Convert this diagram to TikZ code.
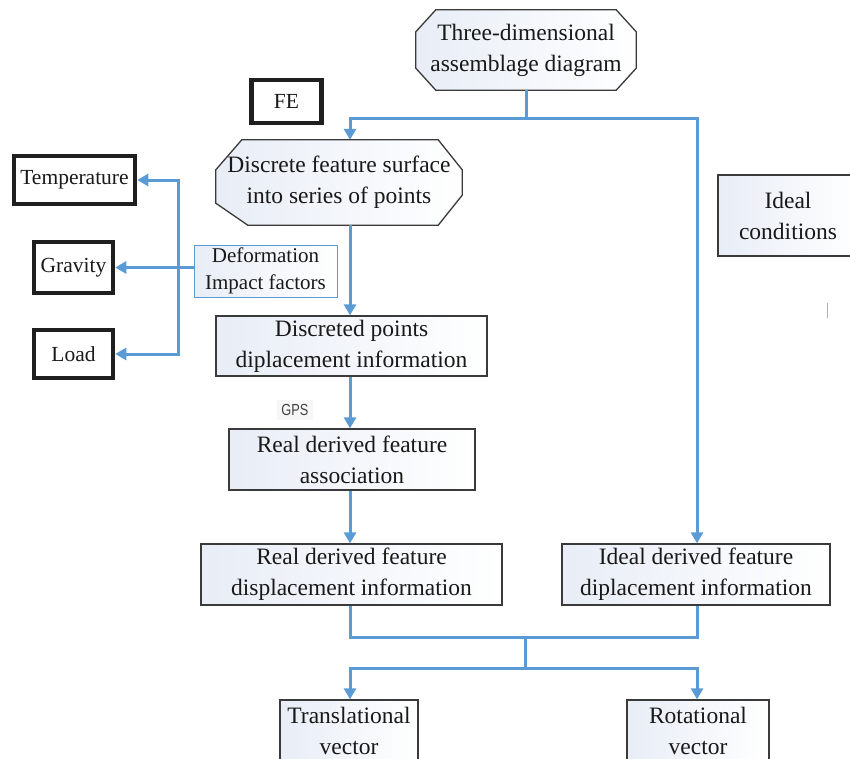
\documentclass[tikz,border=0pt]{standalone}
\usepackage{fontspec}
\setmainfont{Liberation Serif}
\newfontfamily\gpsfont[FakeStretch=0.8]{Liberation Sans}
\usetikzlibrary{arrows.meta,backgrounds}
\definecolor{connblue}{HTML}{5B9BD5}
\definecolor{bord}{HTML}{3A3A3A}
\definecolor{shadeL}{RGB}{232,237,246}
\begin{document}
\begin{tikzpicture}[x=1pt,y=-1pt,
 base/.style={align=center, inner sep=0pt, font=\fontsize{23.5}{31}\selectfont, text=black!90},
 plainbox/.style={base, draw=bord, line width=1.3pt, left color=shadeL, right color=white},
 thickbox/.style={base, draw=black!88, line width=4.5pt, fill=white, font=\fontsize{21.5}{24}\selectfont},
 octline/.style={draw=bord, line width=1.3pt, left color=shadeL, right color=white},
 connline/.style={draw=connblue, line width=3pt},
 arr/.style={connline, -{Triangle[length=11pt,width=12pt]}},
]
\useasboundingbox (0,0) rectangle (850,758);

% octagon nodes
\node[base, minimum width=220pt, minimum height=80pt] (top) at (526,50) {Three-dimensional\\assemblage diagram};
\node[base, minimum width=246pt, minimum height=85pt] (disc) at (339,182.5) {Discrete feature surface\\into series of points};
\begin{pgfonlayer}{background}
\path[octline] ([xshift=20pt]top.north west) -- ([xshift=-20pt]top.north east) -- ([yshift=-22pt]top.north east) -- ([yshift=22pt]top.south east) -- ([xshift=-20pt]top.south east) -- ([xshift=20pt]top.south west) -- ([yshift=22pt]top.south west) -- ([yshift=-22pt]top.north west) -- cycle;
\path[octline] ([xshift=26pt]disc.north west) -- ([xshift=-24pt]disc.north east) -- ([yshift=-30pt]disc.north east) -- ([yshift=30pt]disc.south east) -- ([xshift=-24pt]disc.south east) -- ([xshift=32pt]disc.south west) -- ([yshift=22pt]disc.south west) -- ([yshift=-30pt]disc.north west) -- cycle;
\end{pgfonlayer}

% thick boxes
\node[thickbox, minimum width=70pt, minimum height=43pt] (fe) at (286.5,101.5) {FE};
\node[thickbox, minimum width=121pt, minimum height=48pt] (temp) at (74.5,180) {Temperature};
\node[thickbox, minimum width=79pt, minimum height=51pt] (grav) at (73.5,267.5) {Gravity};
\node[thickbox, minimum width=79pt, minimum height=48pt] (load) at (73.5,354) {Load};

% deformation
\node[base, draw=connblue, line width=0.9pt, left color=shadeL, right color=white, font=\fontsize{21}{27}\selectfont, minimum width=143pt, minimum height=52pt] (deform) at (265.5,271) {Deformation\\Impact factors};

% plain boxes
\node[plainbox, minimum width=271pt, minimum height=60pt] (dpts) at (351.5,346) {Discreted points\\diplacement information};
\node[plainbox, minimum width=246pt, minimum height=61pt] (rassoc) at (352,459.5) {Real derived feature\\association};
\node[plainbox, minimum width=301pt, minimum height=61pt] (rdisp) at (351.5,574.5) {Real derived feature\\displacement information};
\node[plainbox, minimum width=268pt, minimum height=61pt] (idisp) at (696,574.5) {Ideal derived feature\\diplacement information};
\node[plainbox, minimum width=140pt, minimum height=81pt] (icond) at (788,215.5) {Ideal\\conditions};
\node[plainbox, minimum width=138pt, minimum height=62pt] (trans) at (349,731) {Translational\\vector};
\node[plainbox, minimum width=142pt, minimum height=62pt] (rot) at (698,731) {Rotational\\vector};

% GPS label
\node[fill=black!3, inner sep=4pt, text=black!75, font=\gpsfont\fontsize{16}{18}\selectfont] (gps) at (295,410) {GPS};

% small mark
\draw[black!30, line width=0.8pt] (827,303) -- (827,318);

% connectors
\coordinate (t1) at (350,118);
\coordinate (t2) at (697,118);
\coordinate (m) at (525,637);
\coordinate (n) at (525,668);
\coordinate (vx) at (178,0);

\draw[arr] (top.south) |- (t1) -- (t1 |- disc.north);
\draw[arr] (top.south) |- (t2) -- (t2 |- idisp.north);
\draw[arr] (t1 |- disc.south) -- (t1 |- dpts.north);
\draw[arr] (t1 |- dpts.south) -- (t1 |- rassoc.north);
\draw[arr] (t1 |- rassoc.south) -- (t1 |- rdisp.north);
\draw[connline] (t1 |- rdisp.south) |- (m) -| (t2 |- idisp.south);
\draw[connline] (m) -- (n);
\draw[arr] (n) -| (t1 |- trans.north);
\draw[arr] (n) -| (t2 |- rot.north);

\draw[arr] (deform.west |- grav.east) -- (grav.east);
\draw[arr] (vx |- grav.east) |- (temp.east);
\draw[arr] (vx |- grav.east) |- (load.east);
\end{tikzpicture}
\end{document}
